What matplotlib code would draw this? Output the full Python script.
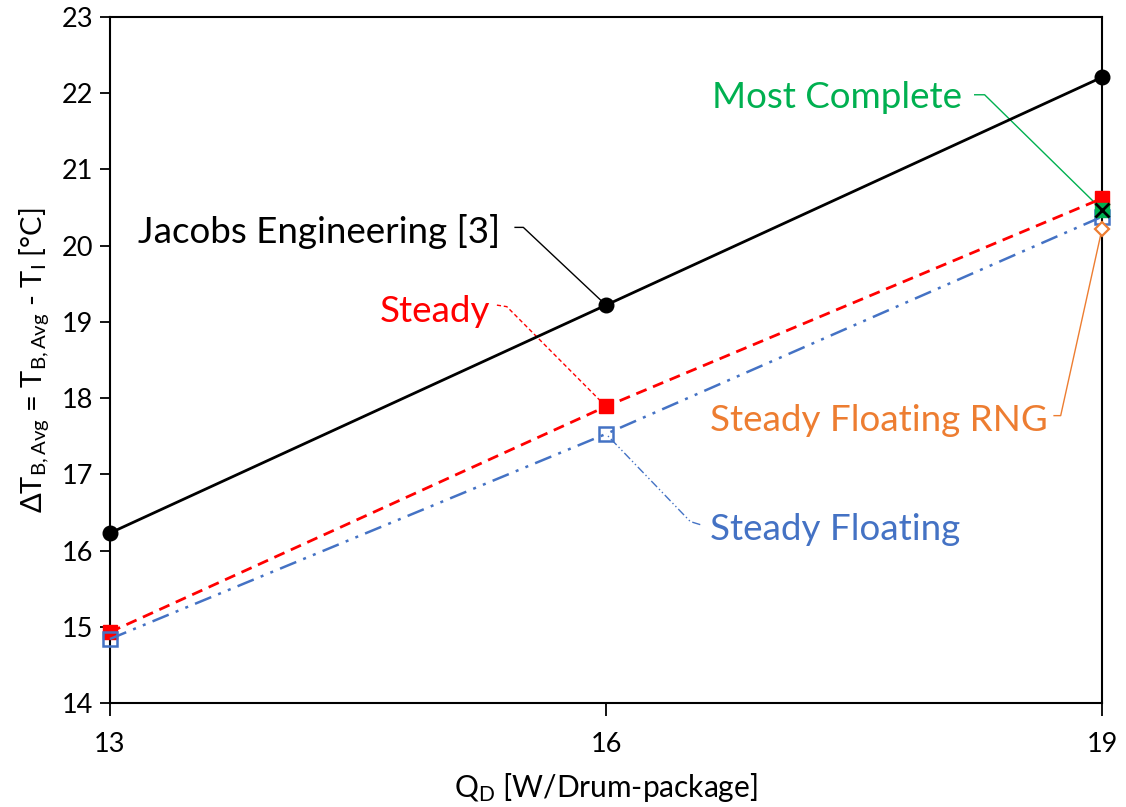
import numpy as np
import matplotlib
matplotlib.use("Agg")
import matplotlib.pyplot as plt

plt.rcParams['font.family'] = ['Lato', 'DejaVu Sans']
plt.rcParams['mathtext.fontset'] = 'custom'
plt.rcParams['mathtext.rm'] = 'Lato'
plt.rcParams['mathtext.it'] = 'Lato:italic'

# data
qd = [13, 16, 19]
jacobs = [16.23, 19.22, 22.21]
steady = [14.93, 17.89, 20.62]
steady_floating = [14.84, 17.53, 20.38]
rng_x = [19]
rng_y = [20.22]
most_x = [19]
most_y = [20.47]

c_black = "black"
c_red = "#FF0000"
c_blue = "#4472C4"
c_orange = "#ED7D31"
c_green = "#00B050"

fig = plt.figure(figsize=(11.26, 8.07), dpi=100)
ax = fig.add_axes([0.0977, 0.1289, 0.881, 0.850])

# leader lines (label -> point)
def leader(tx, ty, bx, by, px, py, color, ls):
    ax.plot([tx, bx, px], [ty, by, py], color=color, lw=1.0, ls=ls, zorder=1)

leader(15.45, 20.24, 15.50, 20.24, qd[1], jacobs[1], c_black, "-")
leader(15.34, 19.22, 15.40, 19.20, qd[1], steady[1], c_red, (0, (3, 2)))
leader(18.23, 21.98, 18.29, 21.98, most_x[0], most_y[0], c_green, "-")
leader(18.71, 17.77, 18.75, 17.77, rng_x[0], rng_y[0], c_orange, "-")
leader(16.57, 16.34, 16.51, 16.38, qd[1], steady_floating[1], c_blue, (0, (6, 2, 1, 2, 1, 2)))

ax.plot(qd, jacobs, color=c_black, lw=2.0, marker="o", ms=10.5, zorder=3, clip_on=False)
ax.plot(qd, steady, color=c_red, lw=2.0, ls=(0, (4, 2.5)), marker="s", ms=9.5,
        mfc=c_red, mec=c_red, zorder=3, clip_on=False)
ax.plot(qd, steady_floating, color=c_blue, lw=1.8, ls=(0, (7, 3, 1.2, 3, 1.2, 3)),
        marker="s", ms=9.5, mfc="none", mec=c_blue, mew=1.8, zorder=4, clip_on=False)
ax.plot(rng_x, rng_y, ls="none", marker="D", ms=7, mfc="white", mec=c_orange,
        mew=1.6, zorder=4, clip_on=False)
ax.plot(most_x, most_y, ls="none", marker="s", ms=10.5, mfc=c_green, mec=c_green,
        zorder=5, clip_on=False)
ax.plot(most_x, most_y, ls="none", marker="x", ms=9.5, mec="black", mew=2.0,
        zorder=6, clip_on=False)

fs = 26.5
ax.text(15.36, 20.18, "Jacobs Engineering [3]", color=c_black, fontsize=fs,
        ha="right", va="center")
ax.text(15.30, 19.14, "Steady", color=c_red, fontsize=fs, ha="right", va="center")
ax.text(16.64, 21.94, "Most Complete", color=c_green, fontsize=fs, ha="left", va="center")
ax.text(16.63, 17.71, "Steady Floating RNG", color=c_orange, fontsize=fs,
        ha="left", va="center")
ax.text(16.63, 16.27, "Steady Floating", color=c_blue, fontsize=fs, ha="left", va="center")

ax.set_xlim(13, 19)
ax.set_ylim(14, 23)
ax.set_xticks(qd)
ax.set_yticks(np.arange(14, 24, 1))
ax.tick_params(axis="both", labelsize=19.5, direction="out", width=1.3, colors="black")
ax.tick_params(axis="x", length=9, pad=12)
ax.tick_params(axis="y", length=7, pad=5)
for s in ax.spines.values():
    s.set_linewidth(1.5)

ax.set_xlabel(r"Q$_{\mathrm{D}}$ [W/Drum-package]", fontsize=21.5, labelpad=10)
ax.set_ylabel(r"$\Delta$T$_{\mathrm{B,Avg}}$ = T$_{\mathrm{B,Avg}}$ - T$_{\mathrm{I}}$ [°C]",
              fontsize=21, labelpad=8)

fig.savefig("out.png", dpi=100)
